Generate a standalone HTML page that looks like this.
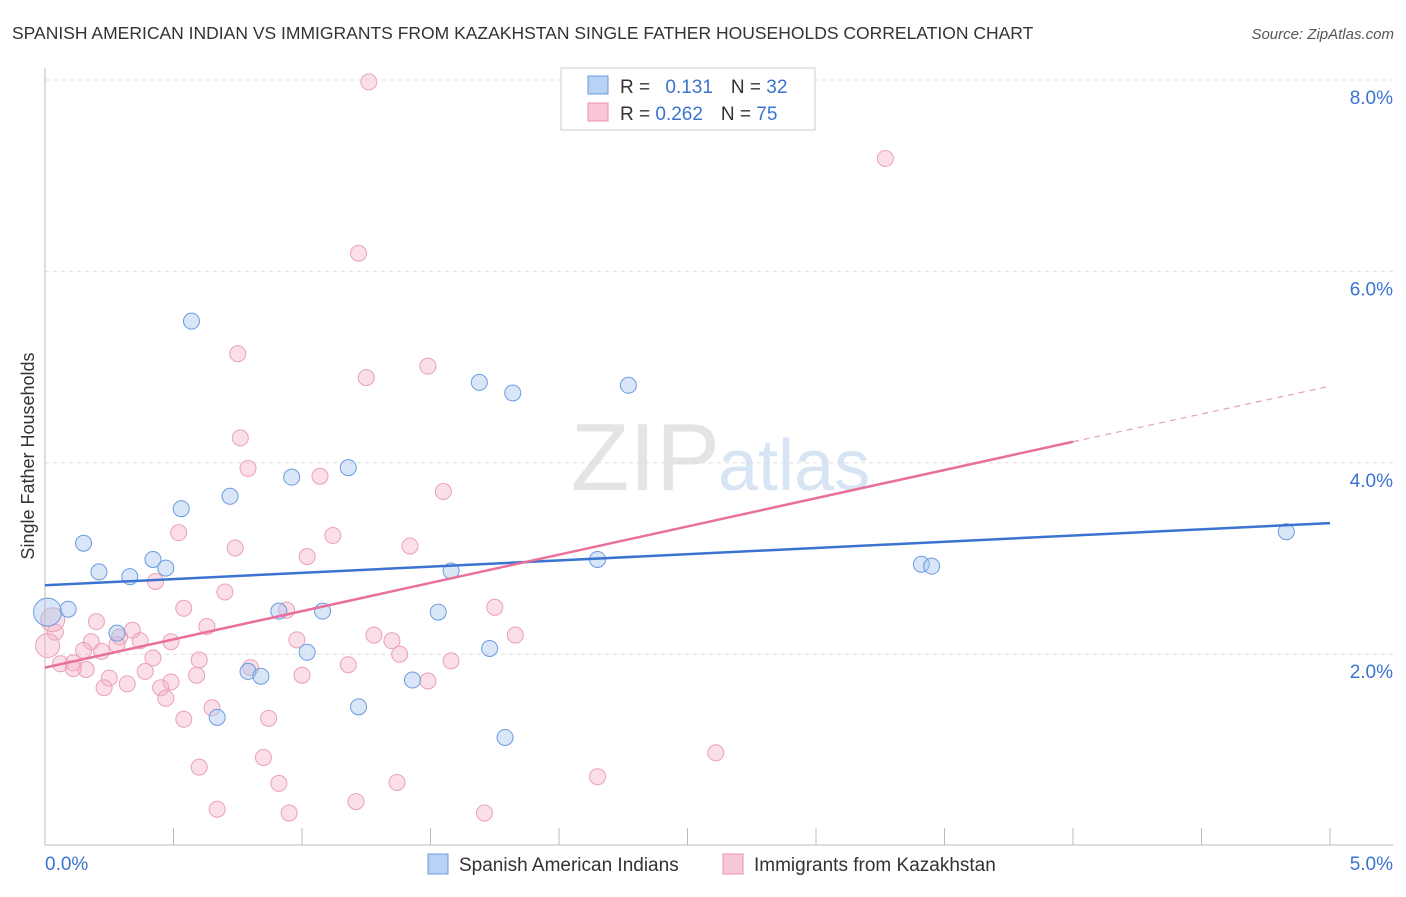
<!DOCTYPE html>
<html><head><meta charset="utf-8"><style>
body{margin:0;background:#fff;font-family:"Liberation Sans",sans-serif;}
svg text{font-family:"Liberation Sans",sans-serif;}
</style></head><body>
<svg id="c" width="1406" height="892">
<text x="12" y="39" font-size="17.5" fill="#333">SPANISH AMERICAN INDIAN VS IMMIGRANTS FROM KAZAKHSTAN SINGLE FATHER HOUSEHOLDS CORRELATION CHART</text>
<text x="1394" y="39" font-size="15" fill="#555" font-style="italic" text-anchor="end">Source: ZipAtlas.com</text>
<text x="720" y="490" font-size="96" fill="#e4e4e4" text-anchor="end" font-family="Liberation Serif">ZIP</text>
<text x="718" y="490" font-size="72" fill="#d6e4f4">atlas</text>
<text transform="translate(34,456) rotate(-90)" font-size="18" fill="#333" text-anchor="middle">Single Father Households</text>
<g id="grid"></g><g id="pts"></g><g id="trend"></g>
<g>
<rect x="561" y="68" width="254" height="62" fill="#fff" stroke="#ccc"/>
<rect x="588" y="76" width="20" height="18" fill="#b8d2f4" stroke="#6a9be0"/>
<rect x="588" y="103" width="20" height="18" fill="#f8c8d6" stroke="#e890aa"/>
<text x="620" y="93" font-size="19" fill="#333">R = <tspan fill="#3a74d0" dx="10">0.131</tspan><tspan dx="18" fill="#333">N = </tspan><tspan fill="#3a74d0">32</tspan></text>
<text x="620" y="120" font-size="19" fill="#333">R = <tspan fill="#3a74d0">0.262</tspan><tspan dx="18" fill="#333">N = </tspan><tspan fill="#3a74d0">75</tspan></text>
</g>
<g>
<rect x="428" y="854" width="20" height="20" fill="#b8d2f4" stroke="#6a9be0"/>
<text x="459" y="871" font-size="19" fill="#333">Spanish American Indians</text>
<rect x="723" y="854" width="20" height="20" fill="#f8c8d6" stroke="#e890aa"/>
<text x="754" y="871" font-size="19" fill="#333">Immigrants from Kazakhstan</text>
</g>
</svg>
<script>
const yTicks=[2,4,6,8];
const yTickLabels=["2.0%","4.0%","6.0%","8.0%"];
const xTickLabels=["0.0%","5.0%"];
const blueX=[.01,.09,.15,.21,.33,.28,.42,.47,.53,.57,.72,.91,.79,.84,.96,1.08,1.02,1.18,1.22,1.43,1.53,1.58,1.69,1.82,1.73,1.79,2.15,2.27,3.41,3.45,4.83,.67];
const blueY=[2.44,2.47,3.16,2.86,2.81,2.22,2.99,2.90,3.52,5.48,3.65,2.45,1.82,1.77,3.85,2.45,2.02,3.95,1.45,1.73,2.44,2.87,4.84,4.73,2.06,1.13,2.99,4.81,2.94,2.92,3.28,1.34];
const pinkX=[1.26,3.27,1.22,.75,1.25,1.49,.76,.79,1.07,1.55,.52,.74,1.12,1.42,1.02,.43,.70,.54,.94,1.75,.20,.63,.34,.04,1.28,1.83,.18,.29,.37,.49,.98,1.35,.15,.22,.28,.42,1.38,.11,.06,.60,1.58,1.18,.80,.39,.16,.11,.25,.49,.59,1.00,1.49,.32,.23,.45,.47,.65,.54,.87,.85,.60,2.61,2.15,.91,1.37,1.21,.67,.95,1.71,.01,.03];
const pinkY=[7.98,7.18,6.19,5.14,4.89,5.01,4.26,3.94,3.86,3.70,3.27,3.11,3.24,3.13,3.02,2.76,2.65,2.48,2.46,2.49,2.34,2.29,2.25,2.23,2.20,2.20,2.13,2.18,2.14,2.13,2.15,2.14,2.04,2.03,2.10,1.96,2.00,1.91,1.90,1.94,1.93,1.89,1.86,1.82,1.84,1.85,1.75,1.71,1.78,1.78,1.72,1.69,1.65,1.65,1.54,1.44,1.32,1.33,.92,.82,.97,.72,.65,.66,.46,.38,.34,.34,2.09,2.36];
const blueTrend=[2.72,3.37];
const pinkTrend=[1.86,4.22,4.80];
const sx=v=>45+v/5*1285, sy=v=>845.6-v*95.7;
const NS="http://www.w3.org/2000/svg";
function mk(t,a,p){const e=document.createElementNS(NS,t);for(const k in a)e.setAttribute(k,a[k]);p.appendChild(e);return e;}
const g=document.getElementById('grid');
yTicks.forEach((t,i)=>{
 const l=mk('line',{x1:45,x2:1393,y1:sy(t),y2:sy(t),stroke:'#ddd','stroke-dasharray':'4,4'},g);
 
 
 const tx=mk('text',{x:1393,y:sy(t)+24,'font-size':19,fill:'#3a74d0','text-anchor':'end'},g);tx.textContent=yTickLabels[i];
 
 
});
const tl=mk('line',{x1:45,x2:1393,y1:80,y2:80,stroke:'#ddd','stroke-dasharray':'4,4'},g);


const ya=mk('line',{x1:45,x2:45,y1:68,y2:845,stroke:'#bbb'},g);


const xa=mk('line',{x1:45,x2:1393,y1:845,y2:845,stroke:'#bbb'},g);


for(let i=0;i<=10;i++){const t=mk('line',{x1:sx(i*.5),x2:sx(i*.5),y1:828,y2:845,stroke:'#bbb'},g);
 
 }
[[0,'start',45],[5,'end',1393]].forEach((d,i)=>{const t=mk('text',{x:d[2],y:870,'font-size':19,fill:'#3a74d0','text-anchor':d[1]},g);t.textContent=xTickLabels[i];
 
 });
const p=document.getElementById('pts');
pinkX.forEach((x,i)=>{const c=mk('circle',{cx:sx(x),cy:sy(pinkY[i]),r:i>=68?12:8,fill:'rgba(244,176,198,0.4)',stroke:'#eba0b8','stroke-width':1},p);
 
 });
blueX.forEach((x,i)=>{const c=mk('circle',{cx:sx(x),cy:sy(blueY[i]),r:i==0?14:8,fill:'rgba(168,200,240,0.45)',stroke:'#6a9be0','stroke-width':1},p);
 
 });
const tr=document.getElementById('trend');
const b=mk('line',{x1:sx(0),y1:sy(blueTrend[0]),x2:sx(5),y2:sy(blueTrend[1]),stroke:'#3a74d0','stroke-width':2.5},tr);


const pk=mk('line',{x1:sx(0),y1:sy(pinkTrend[0]),x2:sx(4),y2:sy(pinkTrend[1]),stroke:'#e8709a','stroke-width':2.5},tr);


const pd=mk('line',{x1:sx(4),y1:sy(pinkTrend[1]),x2:sx(5),y2:sy(pinkTrend[2]),stroke:'#e8a0b8','stroke-width':1.2,'stroke-dasharray':'6,5'},tr);


</script>
</body></html>
